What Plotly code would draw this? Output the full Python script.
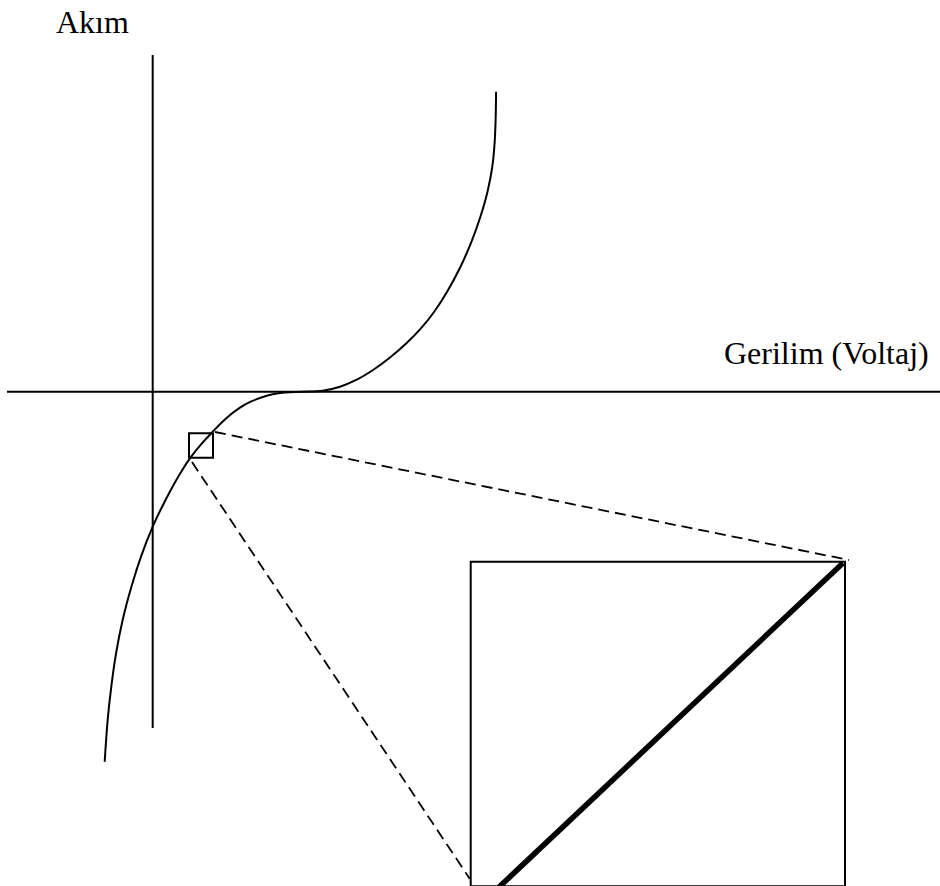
import plotly.graph_objects as go

# Diagram coordinates: origin at the crossing of the two axes (units ~ pixels)
# Current-voltage curve
voltage = [-48.0, -45.0, -41.4, -36.7, -30.0, -21.3, -11.7, 0.0, 9.4, 19.3, 28.5,
           38.5, 49.0, 60.0, 73.0, 87.3, 98.0, 109.3, 120.0, 132.0, 150.0,
           170.0, 187.3, 204.0, 220.3, 237.0, 254.0, 268.0, 280.6, 294.4, 307.8,
           318.8, 327.7, 334.8, 339.6, 342.0, 343.0, 343.4]
current = [-370.0, -328.0, -295.0, -262.0, -228.0, -195.0, -165.0, -135.0, -115.0, -96.0, -80.0,
           -65.0, -52.0, -40.0, -27.0, -16.0, -10.0, -5.6, -2.6, -0.8, 0.0,
           1.0, 5.0, 12.0, 21.7, 34.0, 48.7, 63.0, 78.7, 100.0, 125.0,
           150.0, 175.0, 200.0, 225.0, 250.0, 275.0, 300.0]

axis_labels = ["Akım", "Gerilim (Voltaj)"]

# Frame of the drawing (horizontal and vertical extent around the origin)
X_MIN, X_MAX = -152.7, 787.3
Y_MIN, Y_MAX = -494.3, 391.7

# Geometry of the diagram parts
h_axis = (-145.7, 787.3)          # horizontal axis extent (V)
v_axis = (-336.3, 336.7)          # vertical axis extent (I)
small_box = (36.3, 60.3, -66.0, -41.6)     # x0, x1, y0, y1
big_box = (318.0, 692.3, -494.5, -170.0)   # x0, x1, y0, y1
dash_upper = ((62.3, -40.3), (696.3, -168.3))
dash_lower = ((39.3, -70.3), (317.0, -487.0))
zoom_line = ((344.3, -497.3), (690.3, -171.3))

fig = go.Figure()

fig.add_trace(go.Scatter(
    x=voltage, y=current, mode="lines",
    line=dict(color="black", width=2, shape="spline", smoothing=1.0),
    hoverinfo="skip", showlegend=False,
))

shapes = []
# axes
shapes.append(dict(type="line", xref="x", yref="y", x0=h_axis[0], x1=h_axis[1], y0=0, y1=0,
                   line=dict(color="black", width=2)))
shapes.append(dict(type="line", xref="x", yref="y", x0=0, x1=0, y0=v_axis[0], y1=v_axis[1],
                   line=dict(color="black", width=2)))
# small box
shapes.append(dict(type="rect", xref="x", yref="y", x0=small_box[0], x1=small_box[1],
                   y0=small_box[2], y1=small_box[3], line=dict(color="black", width=2)))
# dashed connectors
for (a, b) in (dash_upper, dash_lower):
    shapes.append(dict(type="line", xref="x", yref="y", x0=a[0], y0=a[1], x1=b[0], y1=b[1],
                       line=dict(color="black", width=1.8, dash="11px,6px")))
# big box
shapes.append(dict(type="rect", xref="x", yref="y", x0=big_box[0], x1=big_box[1],
                   y0=big_box[2], y1=big_box[3], line=dict(color="black", width=2)))
# magnified segment
shapes.append(dict(type="line", xref="x", yref="y", x0=zoom_line[0][0], y0=zoom_line[0][1],
                   x1=zoom_line[1][0], y1=zoom_line[1][1], line=dict(color="black", width=5.5)))

font = dict(family="Liberation Serif, Times New Roman, serif", size=32, color="black")
annotations = [
    dict(text=axis_labels[0], xref="x", yref="y", x=-97.7, y=370.0, xanchor="left",
         yanchor="middle", showarrow=False, font=font, borderpad=0),
    dict(text=axis_labels[1], xref="x", yref="y", x=570.3, y=38.5, xanchor="left",
         yanchor="middle", showarrow=False, font=font, borderpad=0),
]

fig.update_layout(
    width=940, height=886, autosize=False,
    margin=dict(l=0, r=0, t=0, b=0, pad=0),
    paper_bgcolor="white", plot_bgcolor="white",
    xaxis=dict(range=[X_MIN, X_MAX], visible=False, fixedrange=True),
    yaxis=dict(range=[Y_MIN, Y_MAX], visible=False, fixedrange=True),
    shapes=shapes, annotations=annotations, showlegend=False,
)

fig.write_html("out.html", config={"displayModeBar": False},
               post_script="document.body.style.margin='0';")
